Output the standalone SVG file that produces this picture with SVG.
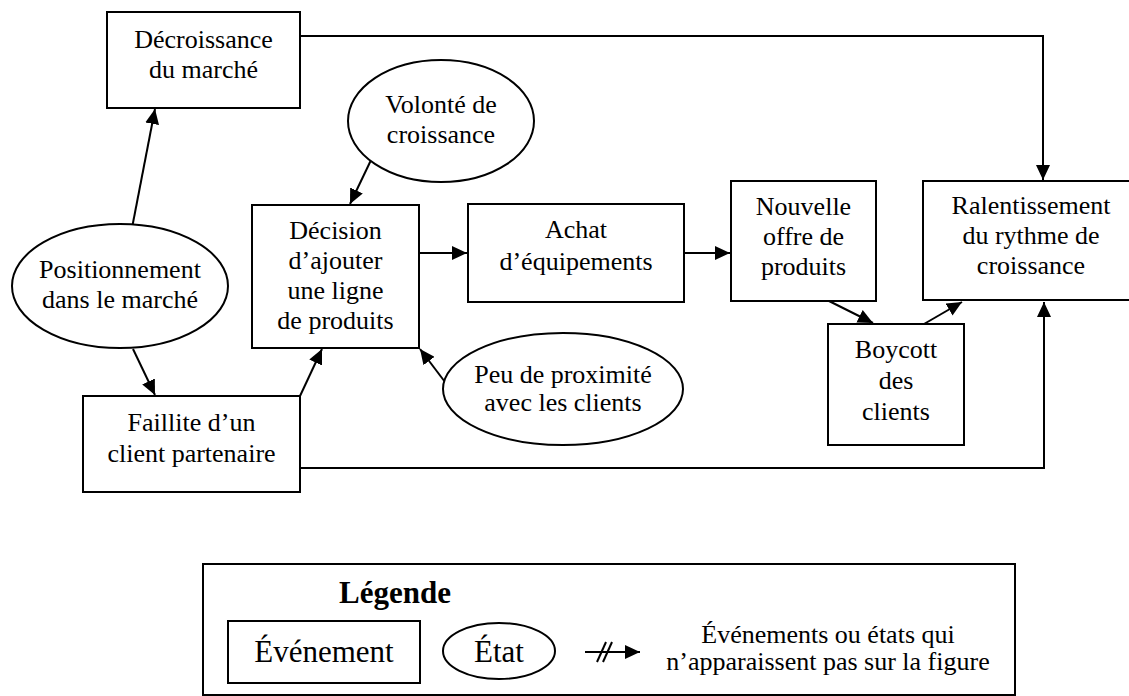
<svg xmlns="http://www.w3.org/2000/svg" width="1129" height="696" viewBox="0 0 1129 696">
  <defs>
    <marker id="arrow" markerUnits="userSpaceOnUse" markerWidth="16" markerHeight="14" refX="15" refY="7" orient="auto">
      <path d="M0,0 L15,7 L0,14 z" fill="#000"/>
    </marker>
    <style>
      .box { fill: #fff; stroke: #000; stroke-width: 2; }
      .lbl { font-family: "Liberation Serif", "Times New Roman", serif; font-size: 26px; fill: #000; text-anchor: middle; }
      .big { font-size: 31px; }
      .bold { font-weight: bold; }
      .edge { fill: none; stroke: #000; stroke-width: 2; marker-end: url(#arrow); }
      .plain { fill: none; stroke: #000; stroke-width: 2; }
    </style>
  </defs>
  <rect width="1129" height="696" fill="#fff"/>

  <!-- connectors -->
  <g id="connectors">
    <polyline class="edge" points="300,36 1043,36 1043,180"/>
    <line class="edge" x1="132" y1="228" x2="155" y2="109"/>
    <line class="edge" x1="133" y1="349" x2="155" y2="395"/>
    <line class="edge" x1="300" y1="396" x2="322" y2="349"/>
    <line class="edge" x1="372" y1="158" x2="350" y2="204"/>
    <line class="edge" x1="445" y1="382" x2="420" y2="349"/>
    <line class="edge" x1="419" y1="253" x2="467" y2="253"/>
    <line class="edge" x1="684" y1="253" x2="730" y2="253"/>
    <line class="edge" x1="829" y1="301" x2="873" y2="323"/>
    <line class="edge" x1="924" y1="324" x2="962" y2="302"/>
    <polyline class="edge" points="300,468 1044,468 1044,302"/>
  </g>

  <g id="n-decroissance">
    <rect class="box" x="107" y="12" width="193" height="96"/>
    <text class="lbl" x="203.5" y="48">Décroissance</text>
    <text class="lbl" x="203.5" y="78">du marché</text>
  </g>

  <g id="n-volonte">
    <ellipse class="box" cx="441" cy="121" rx="93" ry="61"/>
    <text class="lbl" x="441" y="113">Volonté de</text>
    <text class="lbl" x="441" y="143">croissance</text>
  </g>

  <g id="n-positionnement">
    <ellipse class="box" cx="120" cy="286" rx="108" ry="62"/>
    <text class="lbl" x="120" y="278">Positionnement</text>
    <text class="lbl" x="120" y="308">dans le marché</text>
  </g>

  <g id="n-decision">
    <rect class="box" x="252" y="205" width="167" height="143"/>
    <text class="lbl" x="335.5" y="239">Décision</text>
    <text class="lbl" x="335.5" y="269">d’ajouter</text>
    <text class="lbl" x="335.5" y="299">une ligne</text>
    <text class="lbl" x="335.5" y="329">de produits</text>
  </g>

  <g id="n-achat">
    <rect class="box" x="468" y="204" width="216" height="98"/>
    <text class="lbl" x="576" y="238">Achat</text>
    <text class="lbl" x="576" y="270">d’équipements</text>
  </g>

  <g id="n-nouvelle">
    <rect class="box" x="731" y="181" width="145" height="120"/>
    <text class="lbl" x="803.5" y="215">Nouvelle</text>
    <text class="lbl" x="803.5" y="245">offre de</text>
    <text class="lbl" x="803.5" y="275">produits</text>
  </g>

  <g id="n-ralentissement">
    <rect class="box" x="923" y="181" width="216" height="119"/>
    <text class="lbl" x="1031" y="214">Ralentissement</text>
    <text class="lbl" x="1031" y="244">du rythme de</text>
    <text class="lbl" x="1031" y="274">croissance</text>
  </g>

  <g id="n-boycott">
    <rect class="box" x="828" y="324" width="136" height="121"/>
    <text class="lbl" x="896" y="358">Boycott</text>
    <text class="lbl" x="896" y="389">des</text>
    <text class="lbl" x="896" y="420">clients</text>
  </g>

  <g id="n-faillite">
    <rect class="box" x="83" y="396" width="217" height="96"/>
    <text class="lbl" x="191.5" y="431">Faillite d’un</text>
    <text class="lbl" x="191.5" y="462">client partenaire</text>
  </g>

  <g id="n-proximite">
    <ellipse class="box" cx="563" cy="389" rx="120" ry="56"/>
    <text class="lbl" x="563" y="383">Peu de proximité</text>
    <text class="lbl" x="563" y="411">avec les clients</text>
  </g>

  <!-- legend -->
  <g id="legend">
    <rect class="box" x="203" y="564" width="812" height="131"/>
    <text class="lbl big bold" x="395" y="603">Légende</text>
    <rect class="box" x="228" y="621" width="192" height="62"/>
    <text class="lbl big" x="324" y="662">Événement</text>
    <ellipse class="box" cx="499" cy="651" rx="56" ry="28"/>
    <text class="lbl big" x="499" y="662">État</text>
    <line class="edge" x1="585" y1="652" x2="640" y2="652"/>
    <line class="plain" x1="597" y1="662" x2="606" y2="642"/>
    <line class="plain" x1="603" y1="662" x2="612" y2="642"/>
    <text class="lbl" x="828" y="643">Événements ou états qui</text>
    <text class="lbl" x="828" y="670">n’apparaissent pas sur la figure</text>
  </g>
</svg>
